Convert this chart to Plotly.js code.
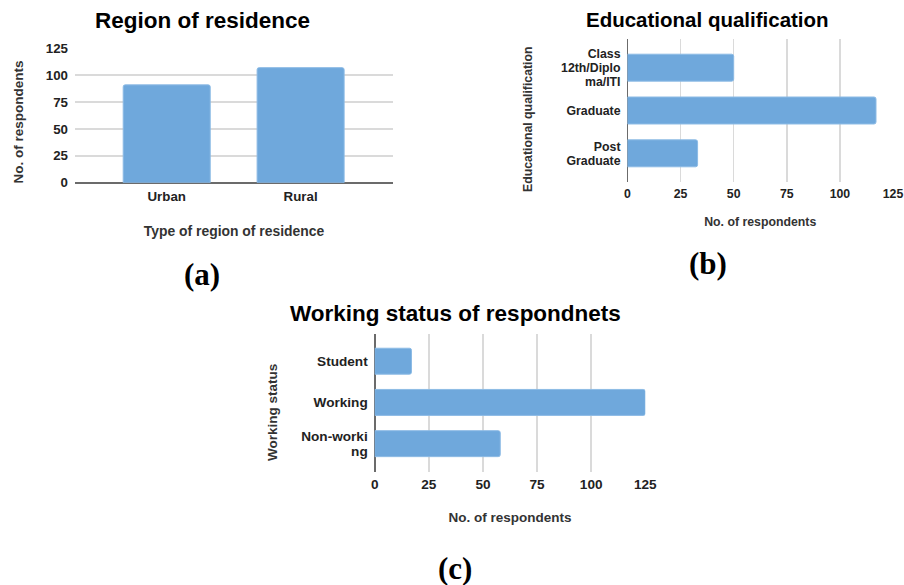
<!DOCTYPE html>
<html>
<head>
<meta charset="utf-8">
<script src="https://cdn.plot.ly/plotly-3.0.1.min.js"></script>
<style>html,body{margin:0;padding:0;background:#fff;}#chart{width:904px;height:585px;}</style>
</head>
<body>
<div id="chart"></div>
<script>
// Chart (a): Region of residence
const regionCategories = ["Urban", "Rural"];
const regionValues = [91, 107];
// Chart (b): Educational qualification
const eduCategories = ["Class<br>12th/Diplo<br>ma/ITI", "Graduate", "Post<br>Graduate"];
const eduValues = [50, 117, 33];
// Chart (c): Working status
const workCategories = ["Student", "Working", "Non-worki<br>ng"];
const workValues = [17, 125, 58];
const valueTicks = [0, 25, 50, 75, 100, 125];

const W = 904, H = 585;
const px = v => v / W;
const py = v => 1 - v / H;

const BAR = "#6fa8dc";
const GRID = "#dadada";
const AXIS = "#6b6b6b";
const FONT = "Liberation Sans, Arial, sans-serif";
const SERIF = "Liberation Serif, Times New Roman, serif";
const tf = s => ({family: FONT, size: s, color: "#222222", weight: "bold"});
const ttf = s => ({family: FONT, size: s, color: "#333333", weight: "bold"});

const barMarker = {color: BAR, line: {color: "#8dbbe5", width: 1}, cornerradius: 2};

const data = [
  {type: "bar", x: regionCategories, y: regionValues, xaxis: "x", yaxis: "y",
   marker: barMarker, width: 0.65, hoverinfo: "skip"},
  {type: "bar", orientation: "h", x: eduValues, y: eduCategories, xaxis: "x2", yaxis: "y2",
   marker: barMarker, width: 0.63, hoverinfo: "skip"},
  {type: "bar", orientation: "h", x: workValues, y: workCategories, xaxis: "x3", yaxis: "y3",
   marker: barMarker, width: 0.63, hoverinfo: "skip"}
];

function ann(text, x, y, font, angle) {
  return {text: text, x: px(x), y: py(y), xref: "paper", yref: "paper",
          showarrow: false, xanchor: "center", yanchor: "middle",
          textangle: angle || 0, font: font};
}

const layout = {
  width: W, height: H,
  margin: {l: 0, r: 0, t: 0, b: 0},
  paper_bgcolor: "#ffffff", plot_bgcolor: "#ffffff",
  showlegend: false,
  font: {family: FONT, color: "#222222"},
  // (a)
  xaxis: {domain: [px(75), px(393)], anchor: "y", type: "category",
          range: [-0.685, 1.69], showgrid: false, zeroline: false,
          showline: false, ticks: "", tickfont: tf(13.3), ticklabelstandoff: 4,
          title: {text: "Type of region of residence", font: ttf(13.9), standoff: 23}},
  yaxis: {domain: [py(182.7), py(48.3)], anchor: "x", range: [0, 125],
          tickvals: valueTicks, showgrid: true, gridcolor: GRID, gridwidth: 1.5,
          zeroline: true, zerolinecolor: AXIS, zerolinewidth: 1.8,
          ticks: "", tickfont: tf(13.3), ticklabelstandoff: 6},
  // (b)
  xaxis2: {domain: [px(627.5), px(893)], anchor: "y2", range: [0, 125],
           tickvals: valueTicks, showgrid: true, gridcolor: GRID, gridwidth: 1.5,
           zeroline: true, zerolinecolor: AXIS, zerolinewidth: 1.8,
           ticks: "", tickfont: tf(12.3), ticklabelstandoff: 3,
           title: {text: "No. of respondents", font: ttf(12.3), standoff: 17}},
  yaxis2: {domain: [py(182), py(39)], anchor: "x2", type: "category",
           range: [2.67, -0.67], showgrid: false, zeroline: false, ticks: "",
           tickfont: tf(12.3), ticklabelstandoff: 6},
  // (c)
  xaxis3: {domain: [px(374.7), px(645.3)], anchor: "y3", range: [0, 125],
           tickvals: valueTicks, showgrid: true, gridcolor: GRID, gridwidth: 1.5,
           zeroline: true, zerolinecolor: AXIS, zerolinewidth: 1.8,
           ticks: "", tickfont: tf(13.6), ticklabelstandoff: 3,
           title: {text: "No. of respondents", font: ttf(13.5), standoff: 21}},
  yaxis3: {domain: [py(471.7), py(334)], anchor: "x3", type: "category",
           range: [2.68, -0.66], showgrid: false, zeroline: false, ticks: "",
           tickfont: tf(13.6), ticklabelstandoff: 6},
  annotations: [
    ann("Region of residence", 202, 21, {family: FONT, size: 22.5, color: "#000000", weight: "bold"}),
    ann("Educational qualification", 707, 20, {family: FONT, size: 20.5, color: "#000000", weight: "bold"}),
    ann("Working status of respondnets", 455, 313, {family: FONT, size: 22.5, color: "#000000", weight: "bold"}),
    ann("No. of respondents", 18, 122.5, ttf(13.5), -90),
    ann("Educational qualification", 528, 119, ttf(12.3), -90),
    ann("Working status", 272, 413, ttf(13.5), -90),
    ann("(a)", 202, 274, {family: SERIF, size: 31, color: "#000000", weight: "bold"}),
    ann("(b)", 708, 264, {family: SERIF, size: 31, color: "#000000", weight: "bold"}),
    ann("(c)", 455, 568, {family: SERIF, size: 31, color: "#000000", weight: "bold"})
  ]
};

// tighter line spacing for the wrapped category labels (px between lines)
const lineGap = {y2tick: 13.8, y3tick: 15.2};

Plotly.newPlot("chart", data, layout, {staticPlot: true, displayModeBar: false}).then(function (gd) {
  Object.keys(lineGap).forEach(function (cls) {
    gd.querySelectorAll("g." + cls + " text").forEach(function (t) {
      const lines = t.querySelectorAll("tspan.line");
      const n = lines.length;
      if (n < 2) return;
      const fs = parseFloat(t.style.fontSize) || 13;
      const g = lineGap[cls] / fs;
      const shift = (n - 1) * (1.3 - g) / 2;
      lines.forEach(function (ts, i) {
        ts.setAttribute("dy", (i * g + shift) + "em");
      });
    });
  });
});
</script>
</body>
</html>
